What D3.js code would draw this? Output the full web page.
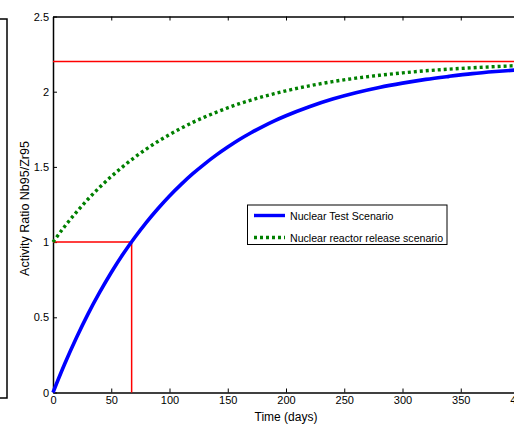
<!DOCTYPE html>
<html>
<head>
<meta charset="utf-8">
<script src="https://cdn.jsdelivr.net/npm/d3@7"></script>
<style>
  html, body { margin: 0; padding: 0; background: #fff; }
  svg { display: block; }
  text { font-family: "Liberation Sans", Arial, sans-serif; fill: #000; }
</style>
</head>
<body>
<script>
// Time axis samples (days)
const days = [0, 10, 20, 30, 40, 50, 60, 70, 80, 90, 100, 110, 120, 130, 140, 150, 160, 170, 180, 190, 200,
              220, 240, 260, 280, 300, 320, 340, 360, 380, 400];
// Nb95/Zr95 activity ratio, nuclear test scenario (starts from pure Zr95)
const testRatio = [0, 0.189, 0.362, 0.521, 0.665, 0.798, 0.919, 1.029, 1.130, 1.222, 1.307, 1.384, 1.455, 1.519,
                   1.578, 1.632, 1.682, 1.727, 1.768, 1.806, 1.840, 1.900, 1.951, 1.993, 2.028, 2.057, 2.082,
                   2.102, 2.120, 2.134, 2.146];
// Nb95/Zr95 activity ratio, reactor release scenario (starts at equal activity)
const reactorRatio = [1.000, 1.104, 1.198, 1.285, 1.364, 1.436, 1.502, 1.563, 1.618, 1.669, 1.715, 1.757, 1.796,
                      1.831, 1.863, 1.893, 1.920, 1.944, 1.967, 1.987, 2.006, 2.039, 2.067, 2.090, 2.109, 2.125,
                      2.139, 2.150, 2.159, 2.167, 2.174];
const equilibriumRatio = 2.2;
const markerDay = 67.5;
const markerRatio = 1;
const xTicks = [0, 50, 100, 150, 200, 250, 300, 350, 400];
const yTicks = [0, 0.5, 1, 1.5, 2, 2.5];
const seriesNames = ["Nuclear Test Scenario", "Nuclear reactor release scenario"];

const W = 514, H = 424;
const plot = { left: 53, right: 519, top: 16.5, bottom: 392.5 };

const svg = d3.select("body").append("svg").attr("width", W).attr("height", H);

const x = d3.scaleLinear().domain([0, 400]).range([plot.left, plot.right]);
const y = d3.scaleLinear().domain([0, 2.5]).range([plot.bottom, plot.top]);

// neighbouring panel frame on the far left
svg.append("rect")
  .attr("x", -20).attr("y", 19).attr("width", 27).attr("height", 379)
  .attr("fill", "none").attr("stroke", "#000").attr("stroke-width", 1.5);

// axes frame with inward ticks
const axisG = svg.append("g");
const tickLen = 4;
const bottomAxis = d3.axisBottom(x).tickValues(xTicks).tickSizeInner(-tickLen).tickSizeOuter(0).tickPadding(4)
  .tickFormat(d3.format("d"));
const topAxis = d3.axisTop(x).tickValues(xTicks).tickSizeInner(-tickLen).tickSizeOuter(0).tickFormat("");
const leftAxis = d3.axisLeft(y).tickValues(yTicks).tickSizeInner(-tickLen).tickSizeOuter(0).tickPadding(4)
  .tickFormat(d => d3.format("~g")(d));

axisG.append("g").attr("transform", `translate(0,${plot.bottom})`).call(bottomAxis);
axisG.append("g").attr("transform", `translate(0,${plot.top})`).call(topAxis);
axisG.append("g").attr("transform", `translate(${plot.left},0)`).call(leftAxis);
axisG.selectAll(".domain").attr("stroke", "#000").attr("stroke-width", 1.5);
axisG.selectAll(".tick line").attr("stroke", "#000").attr("stroke-width", 1);
axisG.selectAll(".tick text").style("font-size", "11px").attr("fill", "#000");

// reference lines
const red = svg.append("g").attr("stroke", "#ff0000").attr("stroke-width", 1.5).attr("fill", "none");
red.append("line").attr("x1", x(0)).attr("x2", x(400))
  .attr("y1", y(equilibriumRatio)).attr("y2", y(equilibriumRatio));
red.append("path").attr("d", d3.line()([
  [x(0), y(markerRatio)], [x(markerDay), y(markerRatio)], [x(markerDay), y(0)]
]));

// curves
const line = d3.line().x(d => x(d[0])).y(d => y(d[1])).curve(d3.curveMonotoneX);
svg.append("path")
  .datum(days.map((d, i) => [d, reactorRatio[i]]))
  .attr("d", line).attr("fill", "none")
  .attr("stroke", "#008000").attr("stroke-width", 3.4).attr("stroke-dasharray", "3,3");
svg.append("path")
  .datum(days.map((d, i) => [d, testRatio[i]]))
  .attr("d", line).attr("fill", "none")
  .attr("stroke", "#0000ff").attr("stroke-width", 3.6);

// legend
const lg = svg.append("g");
lg.append("rect").attr("x", 247.5).attr("y", 205).attr("width", 199.5).attr("height", 39.5)
  .attr("fill", "#fff").attr("stroke", "#000").attr("stroke-width", 1);
lg.append("line").attr("x1", 254).attr("x2", 285).attr("y1", 215.5).attr("y2", 215.5)
  .attr("stroke", "#0000ff").attr("stroke-width", 3.4);
lg.append("line").attr("x1", 254).attr("x2", 285).attr("y1", 237.5).attr("y2", 237.5)
  .attr("stroke", "#008000").attr("stroke-width", 3.4).attr("stroke-dasharray", "3,3");
lg.selectAll("text.lbl").data(seriesNames).join("text").attr("class", "lbl")
  .attr("x", 290).attr("y", (d, i) => 219.5 + i * 22)
  .style("font-size", "10.6px").text(d => d);

// axis titles
svg.append("text").attr("x", (plot.left + plot.right) / 2).attr("y", 421)
  .attr("text-anchor", "middle").style("font-size", "12px").text("Time (days)");
svg.append("text")
  .attr("transform", `translate(29,208.5) rotate(-90)`)
  .attr("text-anchor", "middle").style("font-size", "12.5px").text("Activity Ratio Nb95/Zr95");
</script>
</body>
</html>
